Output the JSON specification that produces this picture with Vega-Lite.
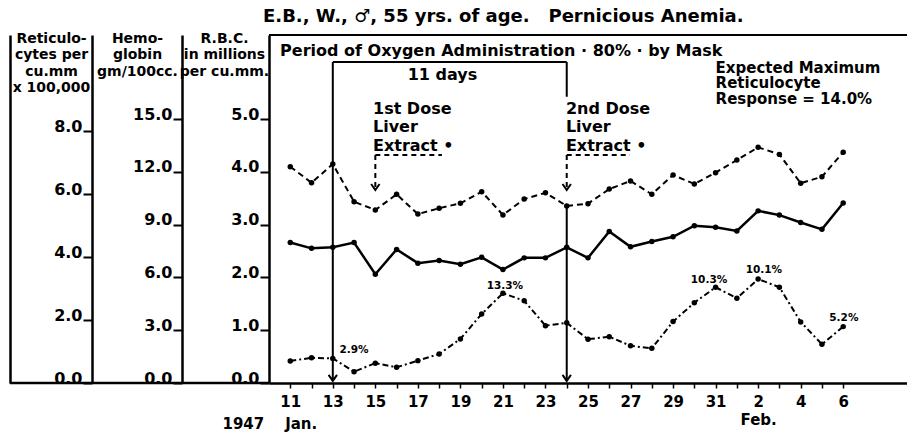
{
  "$schema": "https://vega.github.io/schema/vega-lite/v6.json",
  "width": 638,
  "height": 348,
  "autosize": {"type": "none"},
  "padding": {"left": 269, "top": 35, "right": 0, "bottom": 49},
  "background": "white",
  "config": {
    "view": {"stroke": null},
    "font": "DejaVu Sans",
    "axis": {"grid": false, "domainColor": "black", "tickColor": "black", "labelColor": "black", "titleColor": "black", "labelFont": "DejaVu Sans", "titleFont": "DejaVu Sans", "titleFontWeight": "bold", "labelFontWeight": "bold"}
  },
  "title": {"text": "E.B., W., ♂, 55 yrs. of age.\u00a0\u00a0 Pernicious Anemia.", "anchor": "start", "frame": "group", "dx": -6, "offset": -9, "fontSize": 18, "font": "DejaVu Sans", "fontWeight": "bold", "color": "black", "baseline": "alphabetic"},
  "datasets": {
    "obs": [
      {"day": 11, "hgb": 12.29, "rbc": 2.66, "retic": 0.70},
      {"day": 12, "hgb": 11.38, "rbc": 2.55, "retic": 0.80},
      {"day": 13, "hgb": 12.44, "rbc": 2.57, "retic": 0.78},
      {"day": 14, "hgb": 10.30, "rbc": 2.66, "retic": 0.36},
      {"day": 15, "hgb": 9.83, "rbc": 2.06, "retic": 0.63},
      {"day": 16, "hgb": 10.72, "rbc": 2.53, "retic": 0.50},
      {"day": 17, "hgb": 9.60, "rbc": 2.27, "retic": 0.71},
      {"day": 18, "hgb": 9.93, "rbc": 2.32, "retic": 0.92},
      {"day": 19, "hgb": 10.21, "rbc": 2.25, "retic": 1.40},
      {"day": 20, "hgb": 10.87, "rbc": 2.38, "retic": 2.19},
      {"day": 21, "hgb": 9.55, "rbc": 2.15, "retic": 2.85},
      {"day": 22, "hgb": 10.45, "rbc": 2.37, "retic": 2.61},
      {"day": 23, "hgb": 10.81, "rbc": 2.37, "retic": 1.82},
      {"day": 24, "hgb": 10.06, "rbc": 2.57, "retic": 1.91},
      {"day": 25, "hgb": 10.19, "rbc": 2.37, "retic": 1.39},
      {"day": 26, "hgb": 11.02, "rbc": 2.87, "retic": 1.47},
      {"day": 27, "hgb": 11.48, "rbc": 2.58, "retic": 1.18},
      {"day": 28, "hgb": 10.72, "rbc": 2.68, "retic": 1.10},
      {"day": 29, "hgb": 11.82, "rbc": 2.77, "retic": 1.95},
      {"day": 30, "hgb": 11.31, "rbc": 2.98, "retic": 2.55},
      {"day": 31, "hgb": 11.95, "rbc": 2.95, "retic": 3.04},
      {"day": 32, "hgb": 12.67, "rbc": 2.88, "retic": 2.69},
      {"day": 33, "hgb": 13.39, "rbc": 3.26, "retic": 3.30},
      {"day": 34, "hgb": 12.99, "rbc": 3.18, "retic": 3.04},
      {"day": 35, "hgb": 11.35, "rbc": 3.04, "retic": 1.94},
      {"day": 36, "hgb": 11.72, "rbc": 2.91, "retic": 1.23},
      {"day": 37, "hgb": 13.11, "rbc": 3.41, "retic": 1.79}
    ],
    "rules": [
      {"day": 10, "day2": 40, "y": 6.591, "y2": 6.591, "dash": "solid"},
      {"day": 13, "day2": 24, "y": 6.08, "y2": 6.08, "dash": "solid"},
      {"day": 13, "day2": 13, "y": 6.08, "y2": 0.04, "dash": "solid"},
      {"day": 24, "day2": 24, "y": 6.08, "y2": 5.42, "dash": "solid"},
      {"day": 24, "day2": 24, "y": 3.37, "y2": 0.04, "dash": "solid"},
      {"day": 15, "day2": 18.13, "y": 4.32, "y2": 4.32, "dash": "dashed"},
      {"day": 15, "day2": 15, "y": 4.32, "y2": 3.68, "dash": "dashed"},
      {"day": 24, "day2": 26.97, "y": 4.32, "y2": 4.32, "dash": "dashed"},
      {"day": 24, "day2": 24, "y": 4.32, "y2": 3.68, "dash": "dashed"}
    ],
    "arrows": [
      {"day": 13, "y": 0.04},
      {"day": 24, "y": 0.04},
      {"day": 15, "y": 3.655},
      {"day": 24, "y": 3.655}
    ],
    "notes": [
      {"day": 10.52, "y": 6.19, "text": "Period of Oxygen Administration · 80% · by Mask"},
      {"day": 16.52, "y": 5.74, "text": "11 days"},
      {"day": 14.89, "y": 5.09, "text": "1st Dose"},
      {"day": 14.89, "y": 4.75, "text": "Liver"},
      {"day": 14.89, "y": 4.39, "text": "Extract •"},
      {"day": 23.96, "y": 5.09, "text": "2nd Dose"},
      {"day": 23.96, "y": 4.75, "text": "Liver"},
      {"day": 23.96, "y": 4.39, "text": "Extract •"}
    ],
    "expected": [
      {"day": 31.0, "y": 5.871, "text": "Expected Maximum"},
      {"day": 31.0, "y": 5.578, "text": "Reticulocyte"},
      {"day": 31.0, "y": 5.284, "text": "Response = 14.0%"}
    ],
    "pcts": [
      {"day": 14.0, "y": 0.95, "text": "2.9%"},
      {"day": 21.09, "y": 2.98, "text": "13.3%"},
      {"day": 30.69, "y": 3.17, "text": "10.3%"},
      {"day": 33.27, "y": 3.49, "text": "10.1%"},
      {"day": 37.03, "y": 1.97, "text": "5.2%"}
    ],
    "base": [
      {"day": -2.18, "day2": 10, "y": 0}
    ]
  },
  "encoding": {
    "x": {
      "field": "day", "type": "quantitative",
      "scale": {"domain": [10, 40], "nice": false, "zero": false},
      "axis": {
        "values": [11,12,13,14,15,16,17,18,19,20,21,22,23,24,25,26,27,28,29,30,31,32,33,34,35,36,37],
        "labelExpr": "datum.value % 2 == 1 ? (datum.value == 33 ? ['2', 'Feb.'] : (datum.value > 31 ? '' + (datum.value - 31) : '' + datum.value)) : ''",
        "tickSize": 5, "tickWidth": 1.5, "domainWidth": 2.5, "labelPadding": 6,
        "labelFontSize": 15, "labelFlush": false, "labelOverlap": false, "labelLineHeight": 18,
        "title": "1947\u00a0\u00a0\u00a0\u00a0Jan.", "titleX": -47, "titleY": 45, "titleAlign": "left",
        "titleBaseline": "alphabetic", "titleFontSize": 15
      }
    }
  },
  "layer": [
    {
      "layer": [
        {
          "data": {"name": "obs"},
          "mark": {"type": "line", "color": "black", "strokeWidth": 2.5},
          "encoding": {
            "y": {
              "field": "rbc", "type": "quantitative",
              "scale": {"domain": [0, 6.591], "nice": false, "zero": false},
              "axis": {
                "orient": "left", "offset": 0, "values": [0, 1, 2, 3, 4, 5], "format": ".1f",
                "tickSize": 9, "tickWidth": 2, "domainWidth": 2.5, "labelPadding": 1,
                "labelBaseline": "alphabetic", "labelFontSize": 16, "labelFlush": false,
                "title": ["R.B.C.", "in millions", "per cu.mm."], "titleAngle": 0, "titleAlign": "center",
                "titleBaseline": "top", "titleX": -45, "titleY": -4, "titleFontSize": 14, "titleLineHeight": 16.5
              }
            }
          }
        },
        {
          "data": {"name": "obs"},
          "mark": {"type": "point", "filled": true, "color": "black", "size": 30, "opacity": 1},
          "encoding": {"y": {"field": "rbc", "type": "quantitative"}}
        },
        {
          "data": {"name": "rules"},
          "mark": {"type": "rule", "color": "black", "strokeWidth": 2},
          "encoding": {
            "x2": {"field": "day2"},
            "y": {"field": "y", "type": "quantitative"},
            "y2": {"field": "y2"},
            "strokeDash": {"field": "dash", "type": "nominal", "scale": {"domain": ["solid", "dashed"], "range": [[1, 0], [5, 4]]}, "legend": null}
          }
        },
        {
          "data": {"name": "arrows"},
          "mark": {"type": "point", "shape": "M-0.7,-1L0,0L0.7,-1", "filled": false, "color": "black", "strokeWidth": 2, "size": 144, "opacity": 1},
          "encoding": {"y": {"field": "y", "type": "quantitative"}}
        },
        {
          "data": {"name": "notes"},
          "mark": {"type": "text", "align": "left", "baseline": "alphabetic", "fontSize": 16, "fontWeight": "bold", "font": "DejaVu Sans", "color": "black"},
          "encoding": {
            "y": {"field": "y", "type": "quantitative"},
            "text": {"field": "text", "type": "nominal"}
          }
        },
        {
          "data": {"name": "expected"},
          "mark": {"type": "text", "align": "left", "baseline": "alphabetic", "fontSize": 15, "fontWeight": "bold", "font": "DejaVu Sans", "color": "black"},
          "encoding": {
            "y": {"field": "y", "type": "quantitative"},
            "text": {"field": "text", "type": "nominal"}
          }
        }
      ]
    },
    {
      "layer": [
        {
          "data": {"name": "obs"},
          "mark": {"type": "line", "color": "black", "strokeWidth": 2, "strokeDash": [6, 4]},
          "encoding": {
            "y": {
              "field": "hgb", "type": "quantitative",
              "scale": {"domain": [0, 19.773], "nice": false, "zero": false},
              "axis": {
                "orient": "left", "offset": 87, "values": [0, 3, 6, 9, 12, 15], "format": ".1f",
                "tickSize": 9, "tickWidth": 2, "domainWidth": 2.5, "labelPadding": 1,
                "labelBaseline": "alphabetic", "labelFontSize": 16, "labelFlush": false,
                "title": ["Hemo-", "globin", "gm/100cc."], "titleAngle": 0, "titleAlign": "center",
                "titleBaseline": "top", "titleX": -45, "titleY": -4, "titleFontSize": 14, "titleLineHeight": 16.5
              }
            }
          }
        },
        {
          "data": {"name": "obs"},
          "mark": {"type": "point", "filled": true, "color": "black", "size": 30, "opacity": 1},
          "encoding": {"y": {"field": "hgb", "type": "quantitative"}}
        }
      ]
    },
    {
      "layer": [
        {
          "data": {"name": "obs"},
          "mark": {"type": "line", "color": "black", "strokeWidth": 2, "strokeDash": [6, 3, 2, 3]},
          "encoding": {
            "y": {
              "field": "retic", "type": "quantitative",
              "scale": {"domain": [0, 11.048], "nice": false, "zero": false},
              "axis": {
                "orient": "left", "offset": 177, "values": [0, 2, 4, 6, 8], "format": ".1f",
                "tickSize": 9, "tickWidth": 2, "domainWidth": 2.5, "labelPadding": 1,
                "labelBaseline": "alphabetic", "labelFontSize": 16, "labelFlush": false,
                "title": ["Reticulo-", "cytes per", "cu.mm", "x 100,000"], "titleAngle": 0, "titleAlign": "center",
                "titleBaseline": "top", "titleX": -41, "titleY": -4, "titleFontSize": 14, "titleLineHeight": 16.5
              }
            }
          }
        },
        {
          "data": {"name": "obs"},
          "mark": {"type": "point", "filled": true, "color": "black", "size": 30, "opacity": 1},
          "encoding": {"y": {"field": "retic", "type": "quantitative"}}
        },
        {
          "data": {"name": "pcts"},
          "mark": {"type": "text", "align": "center", "baseline": "alphabetic", "fontSize": 10.5, "fontWeight": "bold", "font": "DejaVu Sans", "color": "black"},
          "encoding": {
            "y": {"field": "y", "type": "quantitative"},
            "text": {"field": "text", "type": "nominal"}
          }
        }
      ]
    },
    {
      "data": {"name": "base"},
      "mark": {"type": "rule", "color": "black", "strokeWidth": 2.5},
      "encoding": {
        "x2": {"field": "day2"},
        "y": {
          "field": "y", "type": "quantitative",
          "scale": {"domain": [0, 1], "nice": false, "zero": false},
          "axis": {"orient": "left", "offset": 259, "labels": false, "ticks": false, "domainWidth": 2.5, "title": null}
        }
      }
    }
  ],
  "resolve": {"scale": {"y": "independent"}}
}
